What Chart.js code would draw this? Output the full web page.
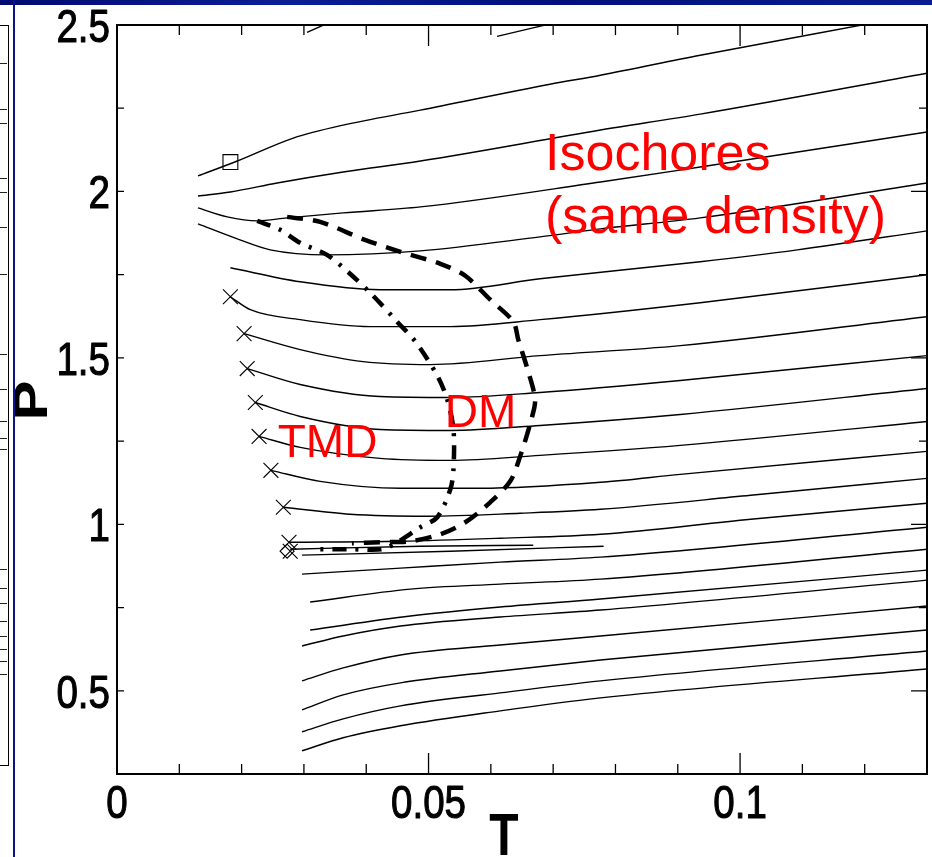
<!DOCTYPE html>
<html>
<head>
<meta charset="utf-8">
<script src="https://cdn.jsdelivr.net/npm/chart.js@4.4.1/dist/chart.umd.min.js"></script>
<style>
html,body{margin:0;padding:0;background:#fff;}
#wrap{position:relative;width:932px;height:857px;overflow:hidden;background:#fff;}
#c{position:absolute;left:0;top:0;}
#topbar{position:absolute;left:0;top:0;width:932px;height:5px;background:linear-gradient(90deg,#000a70,#0c1e96 30%,#00107c 60%,#0a1c90);}
#vline{position:absolute;left:13px;top:0;width:2px;height:857px;background:#0b128c;}
#strip{position:absolute;left:-2px;top:25px;width:10px;height:739px;border-right:1.5px solid #000;border-top:1px solid #000;border-bottom:1px solid #000;}
.tk{position:absolute;left:0;width:9px;height:1px;background:#222;}
</style>
</head>
<body>
<div id="wrap">
  <canvas id="c" width="932" height="857"></canvas>
  <div id="topbar"></div>
  <div id="strip"></div>
  <div id="vline"></div>
</div>
<script>
// ---------- axis ticks ----------
const xTicks = [0, 0.05, 0.1];
const yTicks = [0.5, 1, 1.5, 2, 2.5];
const xMinorStep = 0.01;
const yMinorStep = 0.25;
const xTitle = 'T';
const yTitle = 'P';

// ---------- isochores  [T, P] ----------
const isoA = [[0.0305,2.478],[0.0334,2.502]];
const isoB = [[0.0610,2.466],[0.0692,2.502]];
const isoC = [[0.0130,2.0465],[0.0193,2.0914],[0.0283,2.1604],[0.0363,2.1993],[0.0487,2.2443],[0.0695,2.322],[0.0776,2.3492],[0.0936,2.4092],[0.1193,2.499]];
const isoD = [[0.0130,1.9865],[0.0182,1.9985],[0.0257,2.0255],[0.0363,2.0585],[0.0487,2.0914],[0.0776,2.1844],[0.0936,2.2323],[0.13,2.3552]];
const isoE = [[0.0130,1.9505],[0.0177,1.9236],[0.0225,1.9116],[0.0273,1.9206],[0.0363,1.9356],[0.0487,1.9535],[0.0776,2.0285],[0.0936,2.0734],[0.13,2.1784]];
const isoF = [[0.0130,1.9026],[0.0193,1.8576],[0.0246,1.8246],[0.0337,1.8096],[0.0487,1.8216],[0.0679,1.8636],[0.0776,1.8876],[0.0936,1.9206],[0.13,2.0255]];
const isoG = [[0.0182,1.7707],[0.0294,1.7287],[0.0422,1.7047],[0.0535,1.7047],[0.0679,1.7377],[0.0936,1.7887],[0.1092,1.8246],[0.13,1.8816]];
const isoH = [[0.0182,1.6837],[0.0214,1.6448],[0.0294,1.6148],[0.0406,1.5938],[0.0535,1.5938],[0.0679,1.6148],[0.0936,1.6658],[0.13,1.7497]];
const isoI = [[0.0204,1.5728],[0.0294,1.5249],[0.0395,1.4889],[0.0503,1.4799],[0.0679,1.5069],[0.0904,1.5369],[0.13,1.6238]];
const isoJ = [[0.0209,1.4679],[0.0294,1.4200],[0.0422,1.3840],[0.0535,1.3810],[0.0679,1.3960],[0.0904,1.4319],[0.13,1.5069]];
const isoK = [[0.0222,1.3660],[0.0294,1.3241],[0.0422,1.2851],[0.0535,1.2821],[0.0679,1.2971],[0.0904,1.3300],[0.13,1.4080]];
const isoL = [[0.0228,1.2641],[0.0294,1.2311],[0.0422,1.1981],[0.0535,1.1921],[0.0679,1.2071],[0.0904,1.2371],[0.13,1.3091]];
const isoM = [[0.0247,1.1622],[0.0326,1.1292],[0.0455,1.1082],[0.0583,1.1082],[0.0776,1.1262],[0.0904,1.1502],[0.13,1.2191]];
const isoN = [[0.0267,1.0512],[0.0374,1.0303],[0.0498,1.0243],[0.0647,1.0333],[0.0776,1.0452],[0.1017,1.0872],[0.13,1.1382]];
const isoO = [[0.0276,0.9463],[0.0455,0.9493],[0.0615,0.9583],[0.0776,0.9703],[0.1017,1.0153],[0.13,1.0632]];
const isoShort1 = [[0.0278,0.9253],[0.0487,0.9343],[0.0668,0.9373]];
const isoShort2 = [[0.0297,0.9074],[0.0535,0.9193],[0.0781,0.9343]];
const isoP = [[0.0297,0.8504],[0.0455,0.8684],[0.0615,0.8864],[0.0776,0.9014],[0.13,0.9913]];
const isoQ = [[0.0310,0.7665],[0.0471,0.8054],[0.0615,0.8204],[0.0776,0.8354],[0.13,0.9253]];
const isoR = [[0.0310,0.6826],[0.0471,0.7245],[0.0615,0.7515],[0.0776,0.7755],[0.13,0.8624]];
const isoS = [[0.0297,0.6346],[0.0363,0.6646],[0.0455,0.6945],[0.0615,0.7215],[0.0776,0.7425],[0.13,0.8324]];
const isoT = [[0.0297,0.5297],[0.0363,0.5686],[0.0455,0.6076],[0.0615,0.6376],[0.0776,0.6646],[0.13,0.7545]];
const isoU = [[0.0297,0.4427],[0.0363,0.4877],[0.0455,0.5237],[0.0615,0.5596],[0.0776,0.5926],[0.13,0.6826]];
const isoV = [[0.0297,0.3768],[0.0363,0.4157],[0.0455,0.4547],[0.0615,0.4937],[0.0776,0.5297],[0.13,0.6196]];
const isoW = [[0.0297,0.3198],[0.0363,0.3588],[0.0455,0.3948],[0.0615,0.4397],[0.0776,0.4787],[0.13,0.5656]];

// ---------- loci ----------
const curveDashed = [[0.0273,1.9236],[0.0326,1.9086],[0.0398,1.8546],[0.0455,1.8186],[0.0519,1.7827],[0.0559,1.7467],[0.0599,1.6747],[0.0636,1.6088],[0.0644,1.5549],[0.0659,1.4649],[0.0671,1.3750],[0.0665,1.3151],[0.0647,1.2041],[0.0631,1.1292],[0.0599,1.0662],[0.0559,1.0063],[0.0519,0.9703],[0.0471,0.9493],[0.0422,0.9463],[0.0377,0.9433]];
const curveDashDot = [[0.0225,1.9116],[0.0262,1.8846],[0.0294,1.8456],[0.0337,1.8096],[0.0374,1.7527],[0.0411,1.6867],[0.0451,1.6058],[0.0479,1.5489],[0.0514,1.4469],[0.0530,1.3750],[0.0540,1.2851],[0.0540,1.1652],[0.0535,1.1052],[0.0514,1.0213],[0.0487,0.9913],[0.0450,0.9463],[0.0426,0.9253],[0.0374,0.9253],[0.0321,0.9253]];

// ---------- markers ----------
const crossMarks = [[0.0182,1.6837],[0.0204,1.5728],[0.0209,1.4679],[0.0222,1.3660],[0.0228,1.2641],[0.0247,1.1622],[0.0267,1.0512],[0.0276,0.9463],[0.0278,0.9193]];
const squareMark = [[0.0182,2.0884]];
const diamondMark = [[0.0273,0.9193]];

// ---------- annotation texts ----------
const notes = [
  {text:'Isochores', T:0.0687, P:2.0644, size:52},
  {text:'(same density)', T:0.0687, P:1.8752, size:52},
  {text:'TMD', T:0.0258, P:1.2023, size:46},
  {text:'DM', T:0.0526, P:1.2924, size:46}
];

const SANS = "'Liberation Sans',Arial,Helvetica,sans-serif";
const NARROW_SCALE = 0.82;

// left strip decoration (edge of a neighbouring panel)
const stripTickYs = [37,83,97,152,166,201,248,328,363,395,412,423,543,562,577,595,610,623,635,648];
const strip = document.getElementById('strip');
stripTickYs.forEach(v => { const d = document.createElement('div'); d.className='tk'; d.style.top = v+'px'; strip.appendChild(d); });

const pts = arr => arr.map(p => ({x:p[0], y:p[1]}));
const isochores = [isoA,isoB,isoC,isoD,isoE,isoF,isoG,isoH,isoI,isoJ,isoK,isoL,isoM,isoN,isoO,isoShort1,isoShort2,isoP,isoQ,isoR,isoS,isoT,isoU,isoV,isoW];

const datasets = isochores.map(a => ({
  data: pts(a), showLine:true, borderColor:'#000', borderWidth:1.4, pointRadius:0,
  cubicInterpolationMode:'monotone', fill:false
}));
datasets.push({data:pts(curveDashed), showLine:true, borderColor:'#000', borderWidth:4.5, borderDash:[16,10], borderCapStyle:'butt', pointRadius:0, tension:0.3});
datasets.push({data:pts(curveDashDot), showLine:true, borderColor:'#000', borderWidth:4.5, borderDash:[14,9,3,9], borderCapStyle:'butt', pointRadius:0, tension:0.3});
datasets.push({data:pts(crossMarks), showLine:false, pointStyle:'crossRot', pointRadius:10.5, borderColor:'#000', borderWidth:1.1, backgroundColor:'transparent'});
datasets.push({data:pts(squareMark), showLine:false, pointStyle:'rect', pointRadius:10.5, borderColor:'#000', borderWidth:1.1, backgroundColor:'transparent'});
datasets.push({data:pts(diamondMark), showLine:false, pointStyle:'rectRot', pointRadius:7, borderColor:'#000', borderWidth:1.1, backgroundColor:'transparent'});

const fmt = v => String(v);

const framePlugin = {
  id:'frame',
  afterDatasetsDraw(chart){
    const {ctx, chartArea:a, scales:{x, y}} = chart;
    ctx.save();
    ctx.strokeStyle = '#000';
    ctx.lineWidth = 1.3;
    const nx = Math.round((x.max - x.min)/xMinorStep);
    for (let i = 0; i <= nx; i++) {
      const px = x.getPixelForValue(x.min + i*xMinorStep);
      const L = (i % 5 === 0) ? 21 : 10;
      ctx.beginPath();
      ctx.moveTo(px, a.bottom); ctx.lineTo(px, a.bottom - L);
      ctx.moveTo(px, a.top); ctx.lineTo(px, a.top + L);
      ctx.stroke();
    }
    const ny = Math.round((y.max - y.min)/yMinorStep);
    for (let i = 0; i <= ny; i++) {
      const v = y.min + i*yMinorStep;
      const py = y.getPixelForValue(v);
      const major = Math.abs(v/0.5 - Math.round(v/0.5)) < 1e-6;
      ctx.beginPath();
      ctx.moveTo(a.left, py); ctx.lineTo(a.left + 7, py);
      ctx.moveTo(a.right, py); ctx.lineTo(a.right - (major ? 16 : 8), py);
      ctx.stroke();
    }
    ctx.lineWidth = 2;
    ctx.strokeRect(a.left, a.top, a.right - a.left, a.bottom - a.top);

    // tick labels (narrow sans, slightly heavy)
    ctx.fillStyle = '#000';
    ctx.strokeStyle = '#000';
    ctx.lineWidth = 1.1;
    ctx.lineJoin = 'round';
    ctx.font = '47px ' + SANS;
    ctx.textBaseline = 'alphabetic';
    xTicks.forEach(v => {
      ctx.save();
      ctx.translate(x.getPixelForValue(v), a.bottom + 44);
      ctx.scale(NARROW_SCALE, 1);
      ctx.textAlign = 'center';
      ctx.fillText(fmt(v), 0, 0);
      ctx.strokeText(fmt(v), 0, 0);
      ctx.restore();
    });
    yTicks.forEach(v => {
      ctx.save();
      ctx.translate(a.left - 7, y.getPixelForValue(v) + 17);
      ctx.scale(NARROW_SCALE, 1);
      ctx.textAlign = 'right';
      ctx.fillText(fmt(v), 0, 0);
      ctx.strokeText(fmt(v), 0, 0);
      ctx.restore();
    });
    // axis titles
    ctx.font = 'bold 60px ' + SANS;
    ctx.save();
    ctx.translate((a.left + a.right)/2 - 18, a.bottom + 81);
    ctx.scale(0.8, 1);
    ctx.textAlign = 'center';
    ctx.fillText(xTitle, 0, 0);
    ctx.restore();
    ctx.save();
    ctx.translate(a.left - 83, (a.top + a.bottom)/2 + 1);
    ctx.scale(0.8, 1);
    ctx.rotate(-Math.PI/2);
    ctx.textAlign = 'center';
    ctx.textBaseline = 'middle';
    ctx.fillText(yTitle, 0, 0);
    ctx.restore();

    // annotations
    ctx.fillStyle = '#ff0000';
    ctx.textBaseline = 'alphabetic';
    ctx.textAlign = 'left';
    notes.forEach(n => {
      ctx.font = n.size + 'px ' + SANS;
      ctx.fillText(n.text, x.getPixelForValue(n.T), y.getPixelForValue(n.P));
    });
    ctx.restore();
  }
};

new Chart(document.getElementById('c'), {
  type:'scatter',
  data:{datasets},
  options:{
    responsive:false, animation:false, devicePixelRatio:1,
    events:[],
    layout:{autoPadding:false, padding:{left:0, right:5, top:25, bottom:0}},
    plugins:{legend:{display:false}, tooltip:{enabled:false}},
    scales:{
      x:{
        type:'linear', position:'bottom', min:0, max:0.13,
        grid:{display:false, drawTicks:false}, border:{display:false},
        afterBuildTicks: s => { s.ticks = xTicks.map(v => ({value:v})); },
        afterFit: s => { s.height = 83; s.paddingLeft = 0; s.paddingRight = 0; },
        ticks:{display:false},
        title:{display:false, text:xTitle}
      },
      y:{
        type:'linear', position:'left', min:0.25, max:2.5,
        grid:{display:false, drawTicks:false}, border:{display:false},
        afterBuildTicks: s => { s.ticks = yTicks.map(v => ({value:v})); },
        afterFit: s => { s.width = 117; s.paddingTop = 0; s.paddingBottom = 0; },
        ticks:{display:false},
        title:{display:false, text:yTitle}
      }
    }
  },
  plugins:[framePlugin]
});
</script>
</body>
</html>
